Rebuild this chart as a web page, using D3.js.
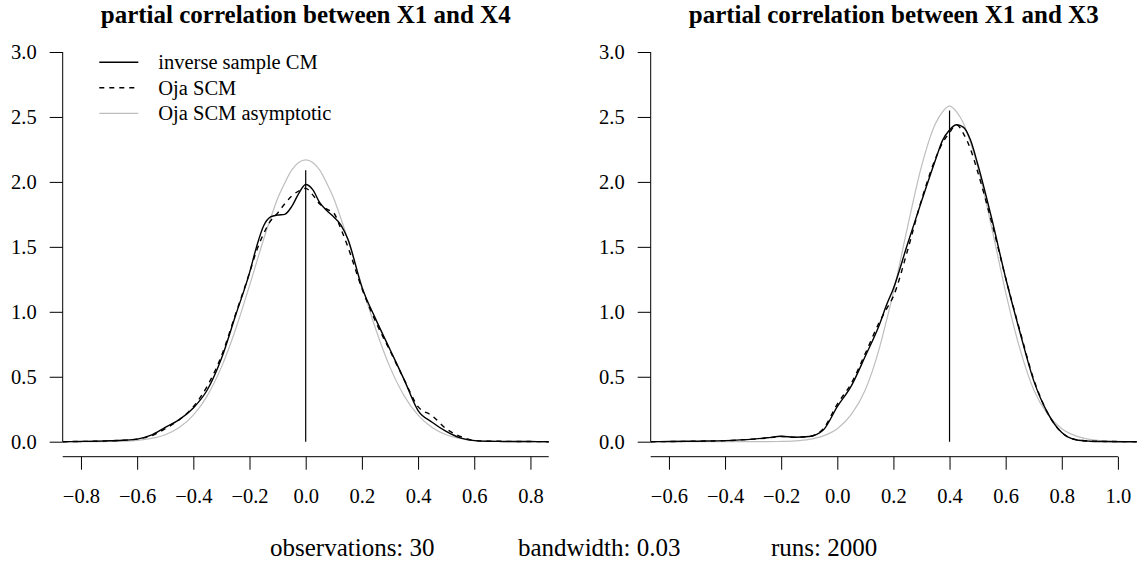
<!DOCTYPE html>
<html>
<head>
<meta charset="utf-8">
<script src="https://cdn.jsdelivr.net/npm/d3@7"></script>
<style>
  body { margin: 0; background: #fff; }
  svg { display: block; }
  text { font-family: "Liberation Serif", "Times New Roman", serif; fill: #000; }
</style>
</head>
<body>
<svg id="chart" width="1142" height="563"></svg>
<script>
// ---- data ----
let titles = ["partial correlation between X1 and X4", "partial correlation between X1 and X3"];
let seriesNames = ["inverse sample CM", "Oja SCM", "Oja SCM asymptotic"];
let yTicks = [0, 0.5, 1, 1.5, 2, 2.5, 3];
let xTicksLeft = [-0.8, -0.6, -0.4, -0.2, 0, 0.2, 0.4, 0.6, 0.8];
let xTicksRight = [-0.6, -0.4, -0.2, 0, 0.2, 0.4, 0.6, 0.8, 1.0];
let xDomainLeft = [-0.865, 0.865];
let xDomainRight = [-0.665, 1.067];
let axisEndRight = 1.0;
let trueValues = [0, 0.4];
let trueLineTops = [2.09, 2.55];
let footer = ["observations: 30", "bandwidth: 0.03", "runs: 2000"];

// left panel (X1, X4)
let xLeft =    [-0.865, -0.8, -0.75, -0.7, -0.65, -0.6, -0.55, -0.5, -0.45, -0.4, -0.35, -0.3, -0.25, -0.2, -0.175, -0.15, -0.125, -0.1, -0.075, -0.05, -0.025, 0, 0.025, 0.05, 0.075, 0.1, 0.125, 0.15, 0.2, 0.25, 0.3, 0.35, 0.4, 0.45, 0.5, 0.55, 0.6, 0.65, 0.7, 0.75, 0.8, 0.865];
let sampleLeft = [0, 0.002, 0.004, 0.007, 0.011, 0.02, 0.05, 0.11, 0.17, 0.26, 0.40, 0.64, 0.97, 1.30, 1.50, 1.66, 1.73, 1.745, 1.75, 1.81, 1.91, 1.98, 1.94, 1.84, 1.78, 1.73, 1.67, 1.56, 1.19, 0.94, 0.71, 0.48, 0.24, 0.15, 0.08, 0.03, 0.008, 0.003, 0.002, 0.001, 0.001, 0];
let ojaLeft =    [0, 0.002, 0.004, 0.007, 0.011, 0.02, 0.045, 0.10, 0.17, 0.27, 0.43, 0.66, 0.98, 1.30, 1.47, 1.60, 1.70, 1.76, 1.83, 1.89, 1.93, 1.95, 1.90, 1.83, 1.79, 1.76, 1.64, 1.50, 1.18, 0.92, 0.70, 0.48, 0.27, 0.20, 0.10, 0.04, 0.01, 0.004, 0.003, 0.002, 0.001, 0];
let asymLeft =   [0, 0.0001, 0.0005, 0.0015, 0.004, 0.0106, 0.025, 0.054, 0.109, 0.204, 0.355, 0.574, 0.862, 1.202, 1.38, 1.557, 1.72, 1.872, 1.99, 2.091, 2.15, 2.17, 2.15, 2.091, 1.99, 1.872, 1.72, 1.557, 1.202, 0.862, 0.574, 0.355, 0.204, 0.109, 0.054, 0.025, 0.0106, 0.004, 0.0015, 0.0005, 0.0001, 0];

// right panel (X1, X3)
let xRight =     [-0.665, -0.6, -0.5, -0.4, -0.3, -0.25, -0.2, -0.15, -0.1, -0.05, 0, 0.05, 0.1, 0.15, 0.175, 0.2, 0.25, 0.3, 0.35, 0.375, 0.4, 0.425, 0.45, 0.475, 0.5, 0.55, 0.6, 0.65, 0.7, 0.75, 0.8, 0.85, 0.9, 0.95, 1.0, 1.067];
let sampleRight = [0, 0.001, 0.004, 0.008, 0.02, 0.03, 0.042, 0.034, 0.04, 0.09, 0.27, 0.43, 0.66, 0.90, 1.05, 1.18, 1.52, 1.85, 2.17, 2.32, 2.40, 2.44, 2.42, 2.32, 2.14, 1.72, 1.26, 0.85, 0.47, 0.22, 0.07, 0.015, 0.004, 0.001, 0, 0];
let ojaRight =    [0, 0.001, 0.004, 0.008, 0.02, 0.028, 0.04, 0.035, 0.04, 0.10, 0.29, 0.45, 0.68, 0.92, 1.02, 1.12, 1.47, 1.86, 2.18, 2.30, 2.38, 2.44, 2.37, 2.25, 2.08, 1.69, 1.26, 0.86, 0.48, 0.22, 0.07, 0.016, 0.005, 0.002, 0.001, 0];
let asymRight =   [0, 0, 0, 0, 0.0005, 0.001, 0.002, 0.006, 0.018, 0.045, 0.10, 0.21, 0.40, 0.72, 0.93, 1.15, 1.65, 2.12, 2.45, 2.54, 2.584, 2.54, 2.45, 2.30, 2.12, 1.65, 1.15, 0.72, 0.40, 0.21, 0.10, 0.045, 0.018, 0.006, 0.002, 0];

let lineColors = ["#000000", "#000000", "#bebebe"];
let lineDash = [null, "5,5", null];

// ---- layout ----
var svg = d3.select("#chart");
let plotTop = 52, plotBottom = 441.7, axisY = 456.7;
let panels = [
    { x0: 62.7, x1: 548.7, domain: xDomainLeft, ticks: xTicksLeft, axisEnd: xDomainLeft[1],
      xs: xLeft, series: [sampleLeft, ojaLeft, asymLeft], legend: true },
    { x0: 650.7, x1: 1136.7, domain: xDomainRight, ticks: xTicksRight, axisEnd: axisEndRight,
      xs: xRight, series: [sampleRight, ojaRight, asymRight], legend: false }
];

let y = d3.scaleLinear().domain([0, 3]).range([plotBottom, plotTop]);
let fmt = d3.format(".1f");
let minus = function(v) { return fmt(v).replace("-", "\u2212"); };

panels.forEach(function(p, i) {
    let x = d3.scaleLinear().domain(p.domain).range([p.x0, p.x1]);
    let g = svg.append("g");

    // title
    g.append("text")
        .attr("x", (p.x0 + p.x1) / 2)
        .attr("y", 23)
        .attr("text-anchor", "middle")
        .style("font-weight", "bold")
        .style("font-size", "25px")
        .text(titles[i]);

    // y axis
    let ya = g.append("g")
        .attr("transform", "translate(" + p.x0 + ",0)")
        .call(d3.axisLeft(y).tickValues(yTicks).tickSize(13).tickPadding(13).tickFormat(minus))
        .attr("font-family", null).attr("font-size", null);
    ya.select(".domain").attr("d", "M0," + y(0) + "V" + y(3)).attr("stroke", "#000");
    ya.selectAll("text").style("font-size", "20.5px").attr("dy", "0.33em");

    // x axis
    let xa = g.append("g")
        .attr("transform", "translate(0," + axisY + ")")
        .call(d3.axisBottom(x).tickValues(p.ticks).tickSize(13).tickPadding(19).tickFormat(minus))
        .attr("font-family", null).attr("font-size", null);
    xa.select(".domain").attr("d", "M" + x(p.domain[0]) + ",0H" + x(p.axisEnd)).attr("stroke", "#000");
    xa.selectAll("text").style("font-size", "20.5px");

    // density curves, gray first so black sits on top
    [2, 1, 0].forEach(function(s) {
        let pts = p.xs.map(function(v, k) { return [v, p.series[s][k]]; });
        g.append("path")
            .datum(pts)
            .attr("fill", "none")
            .attr("stroke", lineColors[s])
            .attr("stroke-width", s == 2 ? 1.2 : 1.4)
            .attr("stroke-dasharray", lineDash[s])
            .attr("d", d3.line()
                .x(function(d) { return x(d[0]); })
                .y(function(d) { return y(d[1]); })
                .curve(d3.curveMonotoneX));
    });

    // true value marker
    g.append("line")
        .attr("x1", x(trueValues[i])).attr("x2", x(trueValues[i]))
        .attr("y1", y(0)).attr("y2", y(trueLineTops[i]))
        .attr("stroke", "#000")
        .attr("stroke-width", 1.2);

    if (p.legend) {
        let lg = g.append("g");
        seriesNames.forEach(function(name, k) {
            let ly = 62.3 + k * 25.5;
            lg.append("line")
                .attr("x1", 99.3).attr("x2", 138.3)
                .attr("y1", ly).attr("y2", ly)
                .attr("stroke", lineColors[k])
                .attr("stroke-width", k == 2 ? 1.2 : 1.4)
                .attr("stroke-dasharray", lineDash[k]);
            lg.append("text")
                .attr("x", 158.3)
                .attr("y", ly)
                .attr("dy", "0.33em")
                .style("font-size", "20.5px")
                .text(name);
        });
    }
});

// footer line
let footX = [270, 518, 771];
footer.forEach(function(t, k) {
    svg.append("text")
        .attr("x", footX[k])
        .attr("y", 555.5)
        .style("font-size", "25px")
        .text(t);
});
</script>
</body>
</html>
